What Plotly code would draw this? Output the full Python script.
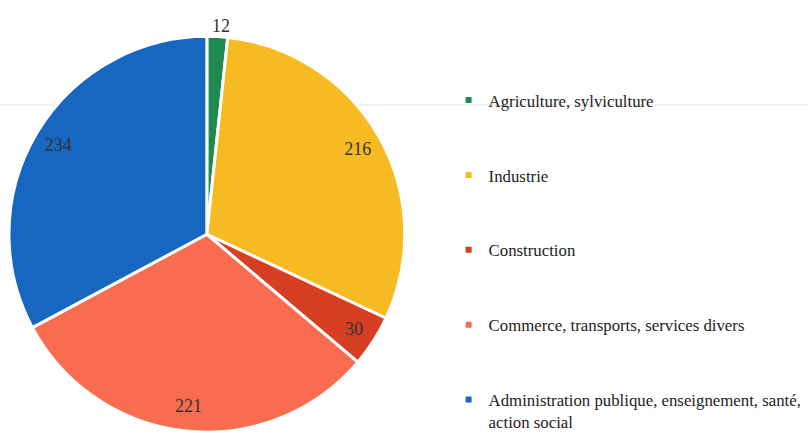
import plotly.graph_objects as go

categories = ["Agriculture, sylviculture", "Industrie", "Construction",
              "Commerce, transports, services divers",
              "Administration publique, enseignement, santé,<br>action social"]
values = [12, 216, 30, 221, 234]
colors = ["#1f8a4f", "#f6bb22", "#d63f22", "#f96c50", "#1766c0"]
inner_label_pos = ["none", "inside", "inside", "inside", "inside"]
outer_label_pos = ["outside", "none", "none", "none", "none"]

SERIF = "Liberation Serif"
LABEL_FONT = dict(family=SERIF, size=18, color="#333333")
CLEAR = ["rgba(0,0,0,0)"] * len(values)

fig = go.Figure()

dom = dict(x=[0.011, 0.501], y=[0.002, 0.916])

# main pie
fig.add_trace(go.Pie(
    labels=categories, values=values, sort=False, direction="clockwise",
    rotation=0, marker=dict(colors=colors, line=dict(color="white", width=3)),
    textinfo="none", showlegend=False, hoverinfo="label+value",
    domain=dom,
))

# transparent ring overlay used only to place the value labels near the rim
fig.add_trace(go.Pie(
    labels=categories, values=values, sort=False, direction="clockwise",
    rotation=0, hole=0.75,
    marker=dict(colors=CLEAR, line=dict(width=0)),
    textinfo="value", textposition=inner_label_pos, insidetextorientation="horizontal",
    textfont=LABEL_FONT, showlegend=False, hoverinfo="skip",
    domain=dom,
))

# transparent overlay for the small slice's outside label (centred above it)
fig.add_trace(go.Pie(
    labels=categories, values=values, sort=False, direction="clockwise",
    rotation=-3, marker=dict(colors=CLEAR, line=dict(width=0)),
    textinfo="value", textposition=outer_label_pos,
    outsidetextfont=LABEL_FONT, textfont=LABEL_FONT,
    showlegend=False, hoverinfo="skip",
    domain=dom,
))

# legend entries
for name, col in zip(categories, colors):
    fig.add_trace(go.Scatter(
        x=[None], y=[None], mode="markers", name=name,
        marker=dict(symbol="square", size=6, color=col),
        legendgroup=name, showlegend=True,
    ))

fig.update_layout(
    width=808, height=433,
    margin=dict(l=0, r=0, t=0, b=0, autoexpand=False),
    paper_bgcolor="white", plot_bgcolor="white",
    font=dict(family=SERIF),
    xaxis=dict(visible=False), yaxis=dict(visible=False),
    legend=dict(
        x=0.5552, y=0.809, xanchor="left", yanchor="top",
        font=dict(family=SERIF, size=16.8, color="#222222"),
        tracegroupgap=50, itemwidth=30, valign="top",
        bgcolor="rgba(0,0,0,0)", maxheight=1,
    ),
    shapes=[dict(type="line", xref="paper", yref="paper", x0=0, x1=1,
                 y0=1 - 105 / 433, y1=1 - 105 / 433,
                 line=dict(color="#e4e4e4", width=1), layer="below")],
)

fig.write_html("out.html", config={"displayModeBar": False},
               post_script="document.body.style.margin='0';")
